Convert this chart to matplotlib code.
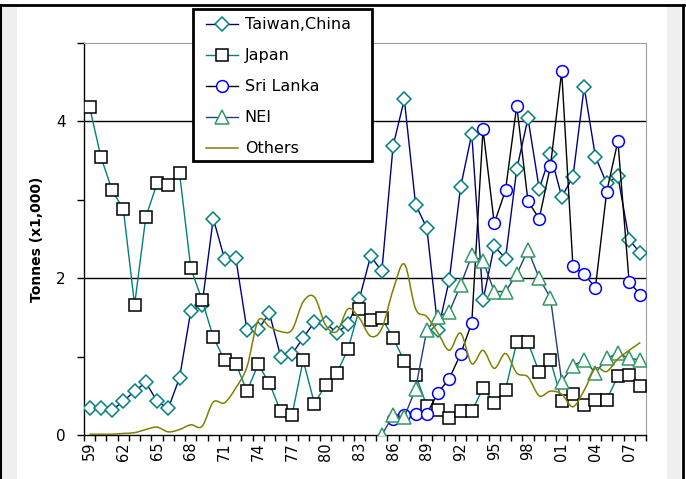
import numpy as np
from matplotlib import pyplot as plt
from matplotlib.path import Path
from matplotlib.patches import PathPatch, Rectangle
from matplotlib.lines import Line2D

nan = np.nan

anios = list(range(1959, 2009))

taiwan = [0.35, 0.34, 0.32, 0.43, 0.56, 0.67, 0.43, 0.34, 0.73, 1.58,
          1.66, 2.76, 2.25, 2.26, 1.34, 1.35, 1.55, 1.00, 1.03, 1.24,
          1.44, 1.43, 1.30, 1.42, 1.74, 2.28, 2.09, 3.69, 4.28, 2.94,
          2.64, 1.34, 1.98, 3.16, 3.84, 1.72, 2.41, 2.25, 3.39, 4.04,
          3.14, 3.58, 3.04, 3.29, 4.44, 3.55, 3.21, 3.30, 2.49, 2.32]

japon = [4.18, 3.55, 3.12, 2.88, 1.66, 2.78, 3.21, 3.19, 3.34, 2.13,
         1.72, 1.25, 0.955, 0.91, 0.56, 0.90, 0.66, 0.30, 0.25, 0.955,
         0.40, 0.64, 0.79, 1.10, 1.61, 1.47, 1.49, 1.24, 0.94, 0.77,
         0.37, 0.32, 0.22, 0.30, 0.30, 0.60, 0.41, 0.58, 1.18, 1.18,
         0.80, 0.955, 0.44, 0.52, 0.38, 0.45, 0.45, 0.75, 0.76, 0.62]

sri_lanka = [nan] * 27 + [0.20, 0.25, 0.27, 0.27, 0.54, 0.72, 1.03, 1.43, 3.90, 2.70,
                          3.12, 4.20, 2.98, 2.76, 3.43, 4.64, 2.15, 2.05, 1.88, 3.10,
                          3.75, 1.95, 1.79]

nei = [nan] * 26 + [0.0, 0.25, 0.23, 0.59, 1.34, 1.51, 1.57, 1.91, 2.29, 2.22,
                    1.83, 1.83, 2.05, 2.36, 2.00, 1.75, 0.68, 0.88, 0.96, 0.79,
                    0.98, 1.04, 0.98, 0.955]

otros = [0.01, 0.01, 0.01, 0.02, 0.03, 0.07, 0.10, 0.04, 0.07, 0.13,
         0.11, 0.42, 0.41, 0.60, 0.87, 1.46, 1.38, 1.32, 1.34, 1.70,
         1.76, 1.40, 1.32, 1.61, 1.49, 1.26, 1.36, 1.85, 2.18, 1.61,
         1.51, 1.30, 1.08, 1.30, 0.91, 1.08, 0.85, 1.04, 0.79, 0.74,
         0.50, 0.56, 0.52, 0.36, 0.57, 0.85, 0.81, 0.97, 1.08, 1.18]

etiquetas_x = [str(a)[-2:] for a in anios[::3]]


def curva_suave(x, y):
    # linea suavizada tipo Excel (bezier catmull-rom)
    verts = [(x[0], y[0])]
    codes = [Path.MOVETO]
    n = len(x)
    for i in range(n - 1):
        xa, ya = (x[i - 1], y[i - 1]) if i > 0 else (x[i], y[i])
        xd, yd = (x[i + 2], y[i + 2]) if i < n - 2 else (x[i + 1], y[i + 1])
        c1 = (x[i] + (x[i + 1] - xa) / 6, y[i] + (y[i + 1] - ya) / 6)
        c2 = (x[i + 1] - (xd - x[i]) / 6, y[i + 1] - (yd - y[i]) / 6)
        verts += [c1, c2, (x[i + 1], y[i + 1])]
        codes += [Path.CURVE4] * 3
    return Path(verts, codes)


plt.rcParams['font.family'] = 'DejaVu Sans'

fig = plt.figure(figsize=(6.86, 4.79), dpi=100)
W, H = 686, 479

# marco exterior
fig.patches.append(Rectangle((2 / W, 0), 15 / W, 474 / H, transform=fig.transFigure,
                             facecolor='#f0f0f0', edgecolor='none', zorder=0))
fig.patches.append(Rectangle((667 / W, 0), 14 / W, 474 / H, transform=fig.transFigure,
                             facecolor='#f0f0f0', edgecolor='none', zorder=0))
fig.lines.append(Line2D([0, 684 / W], [1 - 4.5 / H, 1 - 4.5 / H], transform=fig.transFigure,
                        color='black', lw=2))
fig.lines.append(Line2D([0.5 / W, 0.5 / W], [0, 1 - 4.5 / H], transform=fig.transFigure,
                        color='black', lw=1.5))
fig.lines.append(Line2D([682.5 / W, 682.5 / W], [0, 1 - 4.5 / H], transform=fig.transFigure,
                        color='black', lw=2))

ax = fig.add_axes([84 / W, 1 - 435 / H, 562 / W, 392 / H])

x = np.arange(len(anios))

ax.axhline(2, color='black', lw=1, zorder=1)
ax.axhline(4, color='black', lw=1, zorder=1)

ax.plot(x, taiwan, color='#000080', lw=1, marker='D', markersize=7,
        markerfacecolor='white', markeredgecolor='#008080', markeredgewidth=1.1,
        label='Taiwan,China', zorder=3)
ax.plot(x, japon, color='#008080', lw=1, marker='s', markersize=8.5,
        markerfacecolor='white', markeredgecolor='black', markeredgewidth=1.1,
        label='Japan', zorder=3)
ax.plot(x, sri_lanka, color='black', lw=1, marker='o', markersize=8.5,
        markerfacecolor='white', markeredgecolor='#0000ff', markeredgewidth=1.1,
        label='Sri Lanka', zorder=3)
ax.plot(x, nei, color='#1f3f7f', lw=1, marker='^', markersize=10,
        markerfacecolor='white', markeredgecolor='#339966', markeredgewidth=1.1,
        label='NEI', zorder=3)
ax.add_patch(PathPatch(curva_suave(x, otros), facecolor='none', edgecolor='#808000',
                       lw=1.1, zorder=3))
ax.plot([], [], color='#808000', lw=1.1, label='Others')

ax.set_xlim(-0.5, len(anios) - 0.5)
ax.set_ylim(0, 5)

ax.set_xticks(np.arange(-0.5, len(anios), 1), minor=True)
ax.set_xticks(x[::3])
ax.set_xticklabels(etiquetas_x, rotation=90, fontsize=10.5)
ax.tick_params(axis='x', which='major', length=0, pad=5)
ax.tick_params(axis='x', which='minor', length=4, width=1, direction='out')

ax.set_yticks([0, 2, 4])
ax.set_yticks([1, 3, 5], minor=True)
ax.set_yticklabels(['0', '2', '4'], fontsize=11)
ax.tick_params(axis='y', which='both', length=5, width=1, direction='out', pad=8)

ax.spines['top'].set_color('#a0a0a0')
ax.spines['right'].set_color('#a0a0a0')
ax.spines['left'].set_linewidth(1)
ax.spines['bottom'].set_linewidth(1)

ax.set_ylabel('Tonnes (x1,000)', fontsize=10, fontweight='bold', labelpad=9)

# caja de la leyenda por encima del grafico
fig.patches.append(Rectangle((193 / W, 1 - 161 / H), 179 / W, 152 / H,
                             transform=fig.transFigure, facecolor='white',
                             edgecolor='black', lw=2, zorder=4))
handles, labels = ax.get_legend_handles_labels()
leg = fig.legend(handles, labels, loc='upper left', bbox_to_anchor=(200 / W, 1 - 11 / H),
                 fontsize=11.5, frameon=False, handlelength=2.0,
                 labelspacing=1.0, borderpad=0.4, handletextpad=0.4,
                 borderaxespad=0)
leg.set_zorder(6)

fig.savefig('out.png', dpi=100)
